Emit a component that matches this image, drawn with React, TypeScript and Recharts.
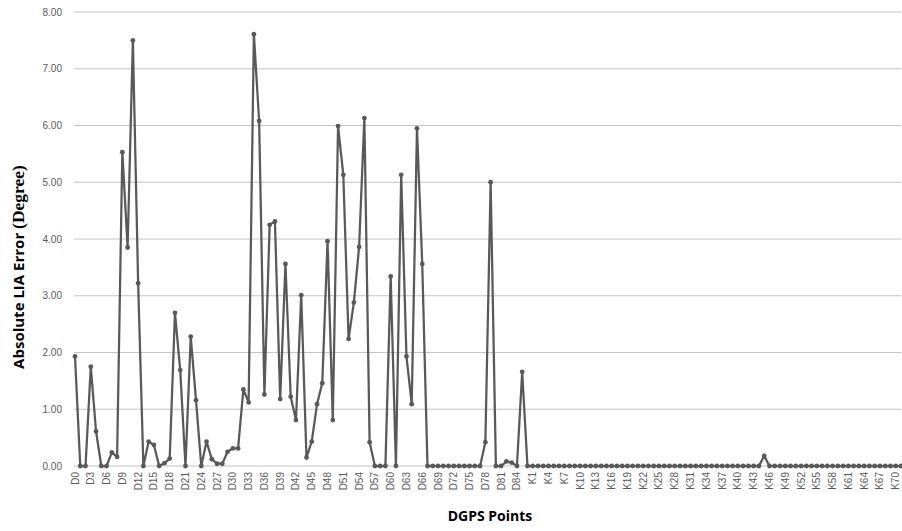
import { LineChart, Line, XAxis, YAxis, CartesianGrid } from "recharts";

// D points D0..D86, K points K1..K71
const dNames = Array.from({ length: 87 }, (_, i) => `D${i}`);
const kNames = Array.from({ length: 71 }, (_, i) => `K${i + 1}`);

const dErrors = [
  1.93, 0, 0, 1.75, 0.61, 0, 0, 0.24, 0.16, 5.53,
  3.85, 7.5, 3.22, 0, 0.43, 0.37, 0, 0.05, 0.13, 2.7,
  1.69, 0, 2.28, 1.16, 0, 0.43, 0.12, 0.04, 0.04, 0.25,
  0.31, 0.31, 1.35, 1.12, 7.61, 6.08, 1.26, 4.25, 4.31, 1.18,
  3.56, 1.22, 0.81, 3.01, 0.15, 0.43, 1.09, 1.46, 3.96, 0.81,
  5.99, 5.13, 2.24, 2.88, 3.86, 6.13, 0.42, 0, 0, 0,
  3.34, 0, 5.13, 1.93, 1.09, 5.95, 3.56, 0, 0, 0,
  0, 0, 0, 0, 0, 0, 0, 0, 0.42, 5.0,
  0, 0, 0.08, 0.06, 0, 1.66, 0,
];

const kErrors = [
  0, 0, 0, 0, 0, 0, 0, 0, 0, 0,
  0, 0, 0, 0, 0, 0, 0, 0, 0, 0,
  0, 0, 0, 0, 0, 0, 0, 0, 0, 0,
  0, 0, 0, 0, 0, 0, 0, 0, 0, 0,
  0, 0, 0, 0, 0.18, 0, 0, 0, 0, 0,
  0, 0, 0, 0, 0, 0, 0, 0, 0, 0,
  0, 0, 0, 0, 0, 0, 0, 0, 0, 0,
  0,
];

const yTicks = [0, 1, 2, 3, 4, 5, 6, 7, 8];

const data = [
  ...dNames.map((name, i) => ({ name, err: dErrors[i] })),
  ...kNames.map((name, i) => ({ name, err: kErrors[i] })),
];

const labelFont = "'Liberation Sans', Arial, sans-serif";
const titleFont = "'Open Sans', 'Liberation Sans', sans-serif";

function XTick(props: any) {
  const { x, y, payload } = props;
  return (
    <g transform={`translate(${x},${y})`}>
      <text
        transform="rotate(-90)"
        x={0}
        y={0}
        dy="0.35em"
        textAnchor="end"
        fontSize={10}
        fontFamily={labelFont}
        fill="#595959"
      >
        {payload.value}
      </text>
    </g>
  );
}

function YTitle() {
  return (
    <text
      transform="translate(18,267) rotate(-90)"
      textAnchor="middle"
      dominantBaseline="central"
      fill="#000"
      fontWeight="bold"
    >
      <tspan fontFamily={titleFont} fontSize={15}>
        Absolute LIA Error{" "}
      </tspan>
      <tspan fontFamily="'Liberation Serif', 'Times New Roman', serif" fontSize={17.5}>
        (Degree)
      </tspan>
    </text>
  );
}

function XTitle() {
  return (
    <text
      x={490}
      y={515}
      textAnchor="middle"
      dominantBaseline="central"
      fontFamily={titleFont}
      fontSize={14}
      fontWeight="bold"
      fill="#000"
    >
      DGPS Points
    </text>
  );
}

export default function App() {
  return (
    <div style={{ width: 902, height: 531, background: "#fff" }}>
      <style>{`body{margin:0}`}</style>
      <LineChart
        width={902}
        height={531}
        data={data}
        margin={{ top: 12, right: 1, left: 0, bottom: 5 }}
      >
        <CartesianGrid vertical={false} stroke="#c3c3c3" strokeWidth={1} />
        <XAxis
          dataKey="name"
          interval={2}
          height={60}
          axisLine={false}
          tickLine={false}
          tickSize={0}
          tickMargin={6}
          tick={<XTick />}
          padding={{ left: 1, right: 0 }}
          label={{ content: () => <XTitle /> }}
        />
        <YAxis
          width={74}
          domain={[0, 8]}
          ticks={yTicks}
          axisLine={false}
          tickLine={false}
          tickSize={0}
          tickMargin={12}
          tickFormatter={(v: number) => v.toFixed(2)}
          tick={{ fontSize: 10, fill: "#595959", fontFamily: labelFont }}
          label={{ content: () => <YTitle /> }}
        />
        <Line
          type="linear"
          dataKey="err"
          stroke="#595959"
          strokeWidth={2.25}
          dot={{ r: 2.4, fill: "#595959", stroke: "#595959", strokeWidth: 0 }}
          activeDot={false}
          isAnimationActive={false}
        />
      </LineChart>
    </div>
  );
}
